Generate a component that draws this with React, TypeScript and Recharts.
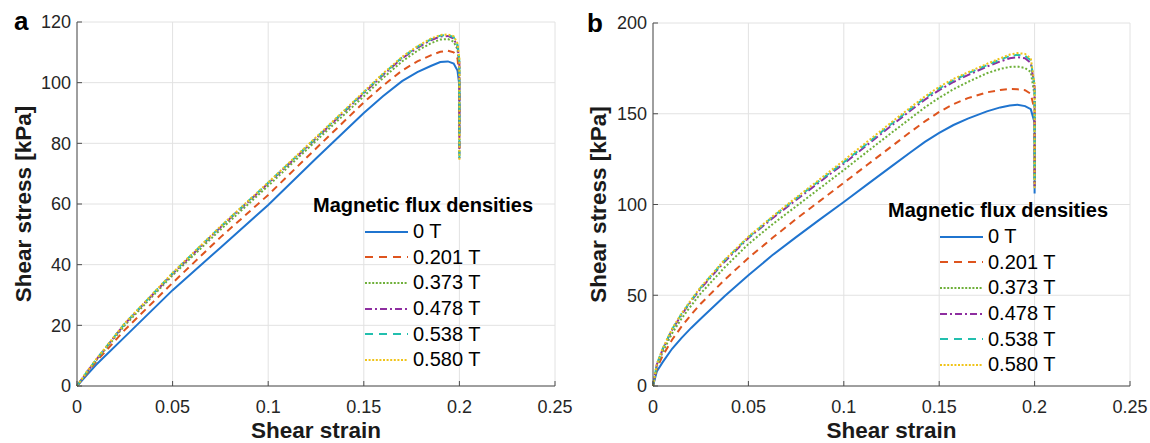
import React from "react";
import { LineChart, Line, XAxis, YAxis, CartesianGrid, Legend } from "recharts";

// ─── Shared axis ticks / labels ───────────────────────────────────────────────
const FONT = "Arial, 'Liberation Sans', Helvetica, sans-serif";

const strainTicks = [0, 0.05, 0.1, 0.15, 0.2, 0.25];
const stressTicksA = [0, 20, 40, 60, 80, 100, 120];
const stressTicksB = [0, 50, 100, 150, 200];

const fluxLabels = ["0 T", "0.201 T", "0.373 T", "0.478 T", "0.538 T", "0.580 T"];

// ─── Panel a: shear strain vs shear stress [kPa] ─────────────────────────────
// (last two points share strain 0.2: the sudden drop at failure)
const strainA = [0, 0.005, 0.01, 0.025, 0.05, 0.075, 0.1, 0.125, 0.15, 0.16, 0.17, 0.178, 0.185, 0.19, 0.194, 0.197, 0.199, 0.2, 0.2];
const stressA0 = [0, 3.5, 7, 16.2, 31.6, 45.6, 59.7, 75, 90, 95.5, 100.5, 103.5, 105.5, 106.8, 107, 106.3, 104, 99, 84];
const stressA201 = [0, 4, 8, 18.5, 34, 49, 63, 78.3, 93.5, 99, 104, 107, 109, 110.2, 110.5, 110, 108, 102, 78];
const stressA373 = [0, 4.3, 8.4, 20, 36.5, 51.5, 66, 80.8, 95.5, 101.5, 107, 110.5, 113, 114.2, 114.4, 113.5, 111, 105, 76];
const stressA478 = [0, 4.5, 8.6, 20.5, 37, 52.3, 66.8, 81.6, 96.5, 102.5, 108, 111.5, 114, 115.2, 115.4, 114.5, 112, 106.5, 75];
const stressA538 = [0, 4.5, 8.7, 20.6, 37.2, 52.5, 67, 81.8, 96.8, 102.8, 108.3, 111.8, 114.3, 115.5, 115.7, 115, 112.5, 107, 75];
const stressA580 = [0, 4.6, 8.8, 20.7, 37.3, 52.6, 67.1, 82, 97, 103, 108.5, 112, 114.5, 115.7, 115.9, 115.3, 113, 108, 74];

// ─── Panel b ──────────────────────────────────────────────────────────────────
const strainB = [0, 0.002, 0.005, 0.01, 0.015, 0.02, 0.025, 0.0375, 0.05, 0.0625, 0.075, 0.0875, 0.1, 0.1125, 0.125, 0.135, 0.1425, 0.15, 0.1575, 0.165, 0.175, 0.182, 0.187, 0.191, 0.195, 0.198, 0.2, 0.2];
const stressB0 = [0, 8, 13, 20.5, 26.5, 32, 37, 49.5, 61, 72, 82, 91.8, 101.4, 111.2, 121, 128.8, 134.5, 139.5, 143.8, 147.3, 151.3, 153.5, 154.6, 155, 154.2, 152.5, 145, 106];
const stressB201 = [0, 9.8, 16.5, 25.5, 32.8, 39.3, 45.3, 58.5, 70.5, 81.5, 92, 102, 112, 122, 132, 140, 145.8, 151, 155.3, 158.6, 161.8, 163.1, 163.6, 163.5, 163, 161, 152, 112];
const stressB373 = [0, 11, 18.5, 29, 37.2, 44.3, 51, 65.3, 78.2, 89, 99, 109, 119, 129.3, 139.5, 147.5, 153.5, 158.8, 163.5, 167.5, 172.3, 174.7, 175.8, 176, 175.2, 173, 160, 110];
const stressB478 = [0, 11.8, 20, 31, 39.3, 46.8, 53.7, 68.5, 81.5, 92.3, 102.5, 112.5, 122.5, 133, 143.5, 151.8, 157.8, 163, 167.5, 171.3, 176, 178.8, 180.6, 181.2, 180.6, 178, 165, 110];
const stressB538 = [0, 12, 20.3, 31.3, 39.8, 47.2, 54.2, 69.2, 82, 93, 103.3, 113.3, 123.3, 133.8, 144.5, 152.7, 158.7, 164, 168.5, 172.2, 176.8, 179.8, 181.8, 182.5, 182, 179.5, 165, 112];
const stressB580 = [0, 12, 20.5, 31.5, 40, 47.5, 54.5, 69.5, 82.3, 93.3, 103.8, 114, 124.3, 134.8, 145.3, 153.5, 159.5, 164.8, 169.2, 172.8, 177.5, 180.5, 182.6, 183.4, 183, 180.5, 166, 108];

// MATLAB-ish line styles, one per flux density
const LINE_STYLES = [
  { color: "#1f74cf", dash: undefined, legendDash: undefined },
  { color: "#de541e", dash: "7 5", legendDash: "8 6" },
  { color: "#6fb03a", dash: "2 2", legendDash: "2 1.6" },
  { color: "#8e2ea0", dash: "8 3 2 3", legendDash: "7 3 2 3" },
  { color: "#22bfae", dash: "7 5", legendDash: "8 6" },
  { color: "#f0c419", dash: "2 2", legendDash: "2 1.6" },
];

const toPoints = (xs: number[], ys: number[]) => xs.map((x, i) => ({ x, y: ys[i] }));

const seriesA = [stressA0, stressA201, stressA373, stressA478, stressA538, stressA580].map((s) => toPoints(strainA, s));
const seriesB = [stressB0, stressB201, stressB373, stressB478, stressB538, stressB580].map((s) => toPoints(strainB, s));

const FluxLegend = () => (
  <div style={{ fontFamily: FONT, color: "#000" }}>
    <div style={{ fontSize: 20, fontWeight: "bold", lineHeight: "28px", textAlign: "center", whiteSpace: "nowrap" }}>
      Magnetic flux densities
    </div>
    {fluxLabels.map((lbl, i) => (
      <div key={lbl} style={{ display: "flex", alignItems: "center", height: 25.6, paddingLeft: 67 }}>
        <svg width={43} height={10} style={{ marginRight: 5 }}>
          <line x1={0} y1={5} x2={43} y2={5} stroke={LINE_STYLES[i].color} strokeWidth={2}
            strokeDasharray={LINE_STYLES[i].legendDash} />
        </svg>
        <span style={{ fontSize: 20 }}>{lbl}</span>
      </div>
    ))}
  </div>
);

interface PanelProps {
  tag: string;
  left: number;
  series: { x: number; y: number }[][];
  yTicks: number[];
  yMax: number;
  plotTop: number;
  yAxisWidth: number;
  legendTop: number;
  tagTop: number;
}

function Panel({ tag, left, series, yTicks, yMax, plotTop, yAxisWidth, legendTop, tagTop }: PanelProps) {
  const axisColor = "#4d4d4d";
  return (
    <div style={{ position: "absolute", left, top: 0, width: 575, height: 443 }}>
      <LineChart width={575} height={443} margin={{ top: plotTop, right: 20, bottom: 0, left: 0 }}>
        <CartesianGrid stroke="#e2e2e2" />
        <XAxis
          dataKey="x"
          type="number"
          domain={[0, 0.25]}
          ticks={strainTicks}
          height={57}
          stroke={axisColor}
          tickSize={-5}
          tickMargin={19}
          tick={{ fontSize: 18, fill: "#262626", fontFamily: FONT }}
          label={{ value: "Shear strain", position: "insideBottom", offset: 5, fontSize: 22.5, fontWeight: "bold", fill: "#1a1a1a", fontFamily: FONT }}
        />
        <XAxis xAxisId="top" orientation="top" type="number" domain={[0, 0.25]} ticks={strainTicks}
          height={0} tick={false} tickSize={-5} stroke={axisColor} allowDataOverflow />
        <YAxis
          type="number"
          domain={[0, yMax]}
          ticks={yTicks}
          width={yAxisWidth}
          stroke={axisColor}
          tickSize={-5}
          tickMargin={11}
          tick={{ fontSize: 18, fill: "#262626", fontFamily: FONT }}
          label={{ value: "Shear stress [kPa]", angle: -90, position: "insideLeft", offset: 23, fontSize: 22.5, fontWeight: "bold", fill: "#1a1a1a", fontFamily: FONT, style: { textAnchor: "middle" } }}
        />
        <YAxis yAxisId="right" orientation="right" type="number" domain={[0, yMax]} ticks={yTicks}
          width={0} tick={false} tickSize={-5} stroke={axisColor} allowDataOverflow />
        <Legend
          verticalAlign="middle"
          layout="horizontal"
          content={() => <FluxLegend />}
          wrapperStyle={{ left: 298, top: legendTop, width: 250 }}
        />
        {series.map((pts, i) => (
          <Line
            key={fluxLabels[i]}
            data={pts}
            dataKey="y"
            name={fluxLabels[i]}
            type="linear"
            stroke={LINE_STYLES[i].color}
            strokeWidth={2}
            strokeDasharray={LINE_STYLES[i].dash}
            dot={false}
            activeDot={false}
            isAnimationActive={false}
          />
        ))}
      </LineChart>
      <div style={{ position: "absolute", left: tag === "a" ? 14 : 12, top: tagTop, fontFamily: FONT, fontSize: 26, fontWeight: "bold", lineHeight: "26px" }}>
        {tag}
      </div>
    </div>
  );
}

export default function App() {
  return (
    <div style={{ position: "absolute", left: 0, top: 0, width: 1150, height: 443, background: "#fff", overflow: "hidden" }}>
      <Panel tag="a" left={0} series={seriesA} yTicks={stressTicksA} yMax={120} plotTop={22} yAxisWidth={77} legendTop={191} tagTop={7.5} />
      <Panel tag="b" left={575} series={seriesB} yTicks={stressTicksB} yMax={200} plotTop={23} yAxisWidth={78} legendTop={196} tagTop={10} />
    </div>
  );
}
